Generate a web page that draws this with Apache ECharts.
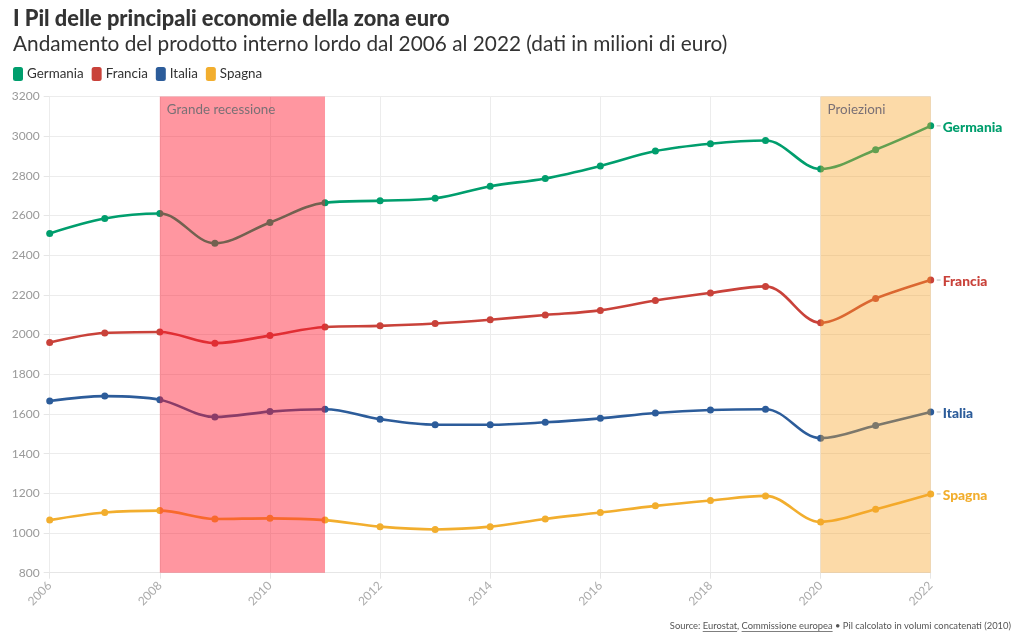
<!DOCTYPE html>
<html>
<head>
<meta charset="utf-8">
<style>html,body{margin:0;padding:0;background:#fff}#chart{width:1027px;height:644px}</style>
<script src="https://cdn.jsdelivr.net/npm/echarts@6/dist/echarts.min.js"></script>
</head>
<body>
<div id="chart"></div>
<script>
const years = ['2006','2007','2008','2009','2010','2011','2012','2013','2014','2015','2016','2017','2018','2019','2020','2021','2022'];
const germania = [2510,2585,2610,2460,2565,2665,2675,2687,2748,2787,2850,2925,2962,2978,2835,2932,3052];
const francia = [1960,2008,2013,1957,1995,2038,2044,2056,2075,2099,2122,2172,2210,2243,2060,2182,2275];
const italia = [1665,1690,1672,1585,1612,1624,1574,1546,1546,1558,1578,1605,1620,1624,1478,1542,1610];
const spagna = [1065,1103,1113,1071,1074,1065,1032,1018,1032,1071,1103,1137,1164,1187,1056,1120,1197];

const font = 'Lato';
const sourceText = 'Source: Eurostat, Commissione europea • Pil calcolato in volumi concatenati (2010)';
const sourceLinks = ['Eurostat', 'Commissione europea'];
const sourceFont = '400 9.4px Lato';
const sourceRight = 1011;
const underlineY = 631;

const myChart = echarts.init(document.getElementById('chart'));

function lineSeries(name, data, color) {
    return {
        name: name,
        type: 'line',
        data: data,
        smooth: 0.35,
        symbol: 'circle',
        symbolSize: 7,
        showAllSymbol: true,
        lineStyle: { width: 2.6, color: color },
        itemStyle: { color: color },
        endLabel: {
            show: true,
            distance: 12,
            offset: [0, 1.5],
            formatter: name,
            color: color,
            fontFamily: font,
            fontWeight: 900,
            fontSize: 13.8,
        },
        // little grey tick between the last point and its label
        markPoint: {
            silent: true,
            symbol: 'rect',
            symbolSize: [4, 1],
            symbolOffset: [8, 0],
            itemStyle: { color: '#bbb' },
            label: { show: false },
            data: [{ xAxis: years[years.length - 1], yAxis: data[data.length - 1] }],
        },
    };
}

// underlines of the two links in the source line, measured from the text
function sourceUnderlines() {
    const ctx = document.createElement('canvas').getContext('2d');
    ctx.font = sourceFont;
    const start = sourceRight - ctx.measureText(sourceText).width;
    return sourceLinks.map(function (link) {
        const before = sourceText.slice(0, sourceText.indexOf(link));
        const x = start + ctx.measureText(before).width;
        return {
            type: 'rect',
            silent: true,
            shape: { x: x, y: underlineY, width: ctx.measureText(link).width, height: 0.7 },
            style: { fill: '#555' },
        };
    });
}

myChart.setOption({
    animation: false,
    backgroundColor: '#fff',
    textStyle: { fontFamily: font },
    title: [
        { text: 'I Pil delle principali economie della zona euro', left: 13, top: 8, padding: 0,
          textStyle: { fontFamily: font, fontSize: 21.8, fontWeight: 900, color: '#333' } },
        { text: 'Andamento del prodotto interno lordo dal 2006 al 2022 (dati in milioni di euro)', left: 13, top: 34, padding: 0,
          textStyle: { fontFamily: font, fontSize: 20.8, fontWeight: 400, color: '#333' } },
        { text: sourceText, right: 1027 - sourceRight, top: 621, padding: 0,
          textStyle: { fontFamily: font, fontSize: 9.4, fontWeight: 400, color: '#555' } },
    ],
    graphic: sourceUnderlines(),
    legend: {
        left: 13,
        top: 67,
        padding: 0,
        icon: 'roundRect',
        itemWidth: 10,
        itemHeight: 14,
        itemGap: 8,
        selectedMode: false,
        data: ['Germania', 'Francia', 'Italia', 'Spagna'],
        textStyle: { fontFamily: font, fontSize: 13.4, color: '#333', padding: [0, 0, 0, -1] },
    },
    grid: { left: 49.7, right: 96.3, top: 96.5, bottom: 71.3 },
    xAxis: {
        type: 'category',
        data: years,
        boundaryGap: false,
        axisLine: { show: true, lineStyle: { color: '#e6e6e6' } },
        axisTick: { show: true, interval: 1, length: 6, lineStyle: { color: '#e6e6e6' } },
        axisLabel: { interval: 1, rotate: 45, color: '#aaa', fontSize: 12, margin: 11 },
        splitLine: { show: true, interval: 1, lineStyle: { color: '#ececec' } },
    },
    yAxis: {
        type: 'value',
        min: 800,
        max: 3200,
        interval: 200,
        axisLine: { show: false },
        axisTick: { show: true, length: 6, lineStyle: { color: '#e6e6e6' } },
        axisLabel: { color: '#999', fontSize: 12, margin: 10, formatter: function (v) { return String(v); } },
        splitLine: { show: true, lineStyle: { color: '#ececec' } },
    },
    series: [
        lineSeries('Germania', germania, '#009e6d'),
        lineSeries('Francia', francia, '#c9423a'),
        lineSeries('Italia', italia, '#2c5c9a'),
        lineSeries('Spagna', spagna, '#f2ae2e'),
        {
            name: 'bande',
            type: 'line',
            data: [],
            z: 10,
            markArea: {
                z: 10,
                silent: true,
                label: { show: true, position: 'insideTopLeft', distance: 7, color: '#7a7075', fontFamily: font, fontSize: 13.4 },
                data: [
                    [{ name: 'Grande recessione', xAxis: '2008', itemStyle: { color: '#ff162c', opacity: 0.45 } }, { xAxis: '2011' }],
                    [{ name: 'Proiezioni', xAxis: '2020', itemStyle: { color: '#f7a225', opacity: 0.4 } }, { xAxis: '2022' }],
                ],
            },
        },
    ],
});
</script>
</body>
</html>
